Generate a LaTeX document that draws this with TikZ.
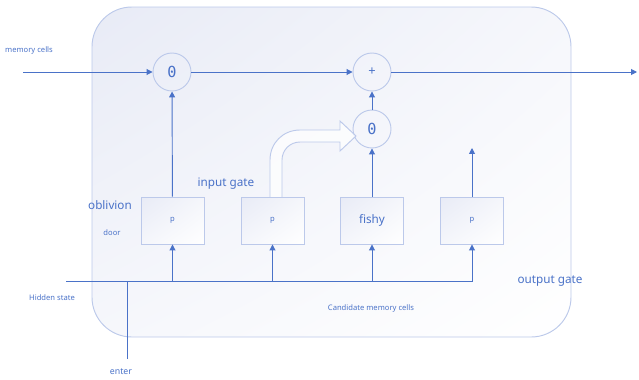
\documentclass[tikz,border=0pt]{standalone}
\usepackage{fontspec}
\setmainfont{Noto Sans}
\newfontfamily\monofont{DejaVu Sans Mono}
\usetikzlibrary{arrows.meta,shadings}

\definecolor{lstm}{HTML}{4A72C8}
\definecolor{pale}{HTML}{BCC9EA}
\definecolor{wash}{HTML}{E8EBF6}

\tikzset{
  link/.style  ={draw=lstm,line width=.8pt,-{Triangle[width=5pt,length=5pt]}},
  wire/.style  ={draw=lstm,line width=.8pt},
  note/.style  ={text=lstm,font=\fontsize{6.5}{8}\selectfont},
  tag/.style   ={text=lstm,font=\fontsize{10}{12}\selectfont},
  gatebox/.style={rectangle,draw=pale,line width=.8pt,
    minimum width=18.9mm,minimum height=14.1mm,
    upper left=wash,upper right=wash!45,lower left=wash!45,lower right=white},
  op/.style    ={circle,draw=pale,line width=.8pt,minimum size=11.4mm,
    text=lstm,font=\monofont\fontsize{13}{15}\selectfont}
}

\begin{document}
\begin{tikzpicture}[x=.3mm,y=-.3mm]
\useasboundingbox (0,0) rectangle (639,379);

% cell body
\shade[draw=pale,line width=.8pt,rounded corners=34pt,
  upper left=wash,upper right=wash!40,lower left=wash!40,lower right=white]
  (92,7) rectangle (571,337);

% pointwise operations
\node[op]                  (forget) at (172,72)  {0};
\node[op,font=\fontsize{11}{13}\selectfont] (add) at (372,72) {+};
\node[op]                  (mult)   at (372,129) {0};
\fill[lstm] (forget) circle (.8pt) (mult) circle (.8pt);

% hollow arrow from the input gate
\draw[draw=pale,fill=white,fill opacity=.7,line width=.8pt]
  (270,197) -- (270,160) .. controls (270,143) and (283,130) .. (300,130)
  -- (340,130) -- (340,121) -- (356,136) -- (340,151) -- (340,142)
  -- (300,142) .. controls (290,142) and (282,150) .. (282,160)
  -- (282,197);

% gates
\node[gatebox,note]                          (fgate) at (172.5,220.5) {p};
\node[gatebox,note]                          (igate) at (272.5,220.5) {p};
\node[gatebox,tag]                           (cgate) at (372,220.5)   {fishy};
\node[gatebox,note]                          (ogate) at (472,220.5)   {p};

% free ends
\coordinate (min)  at (23,72);
\coordinate (mout) at (637,72);
\coordinate (hin)  at (66,281);
\coordinate (xin)  at (127,359);
\coordinate (otop) at (472,148);

% cell state
\draw[link] (min)    -- (forget);
\draw[link] (forget) -- (add);
\draw[link] (add)    -- (mout);
\draw[link] (mult)   -- (add);
\draw[link] (fgate)  -- (forget);
\draw[link] (cgate)  -- (mult);
\draw[link] (ogate)  -- (otop);

% hidden state and input
\draw[link] (hin) -| (ogate);
\foreach \g in {fgate,igate,cgate}
  \draw[link] (\g |- hin) -- (\g);
\draw[wire] (xin) -- (xin |- hin);

% labels
\path
  (29,51)   node[note] (lmem)  {memory cells}
  (52,298)  node[note] (lhid)  {Hidden state}
  (121,372) node[note,font=\fontsize{7.5}{9}\selectfont] (lin) {enter}
  (110,205) node[tag]  (lobl)  {oblivion}
  (112,233) node[note] (ldoor) {door}
  (226,184) node[tag]  (linp)  {input gate}
  (371,309) node[note] (lcand) {Candidate memory cells}
  (550,281) node[tag]  (lout)  {output gate};
\end{tikzpicture}
\end{document}
